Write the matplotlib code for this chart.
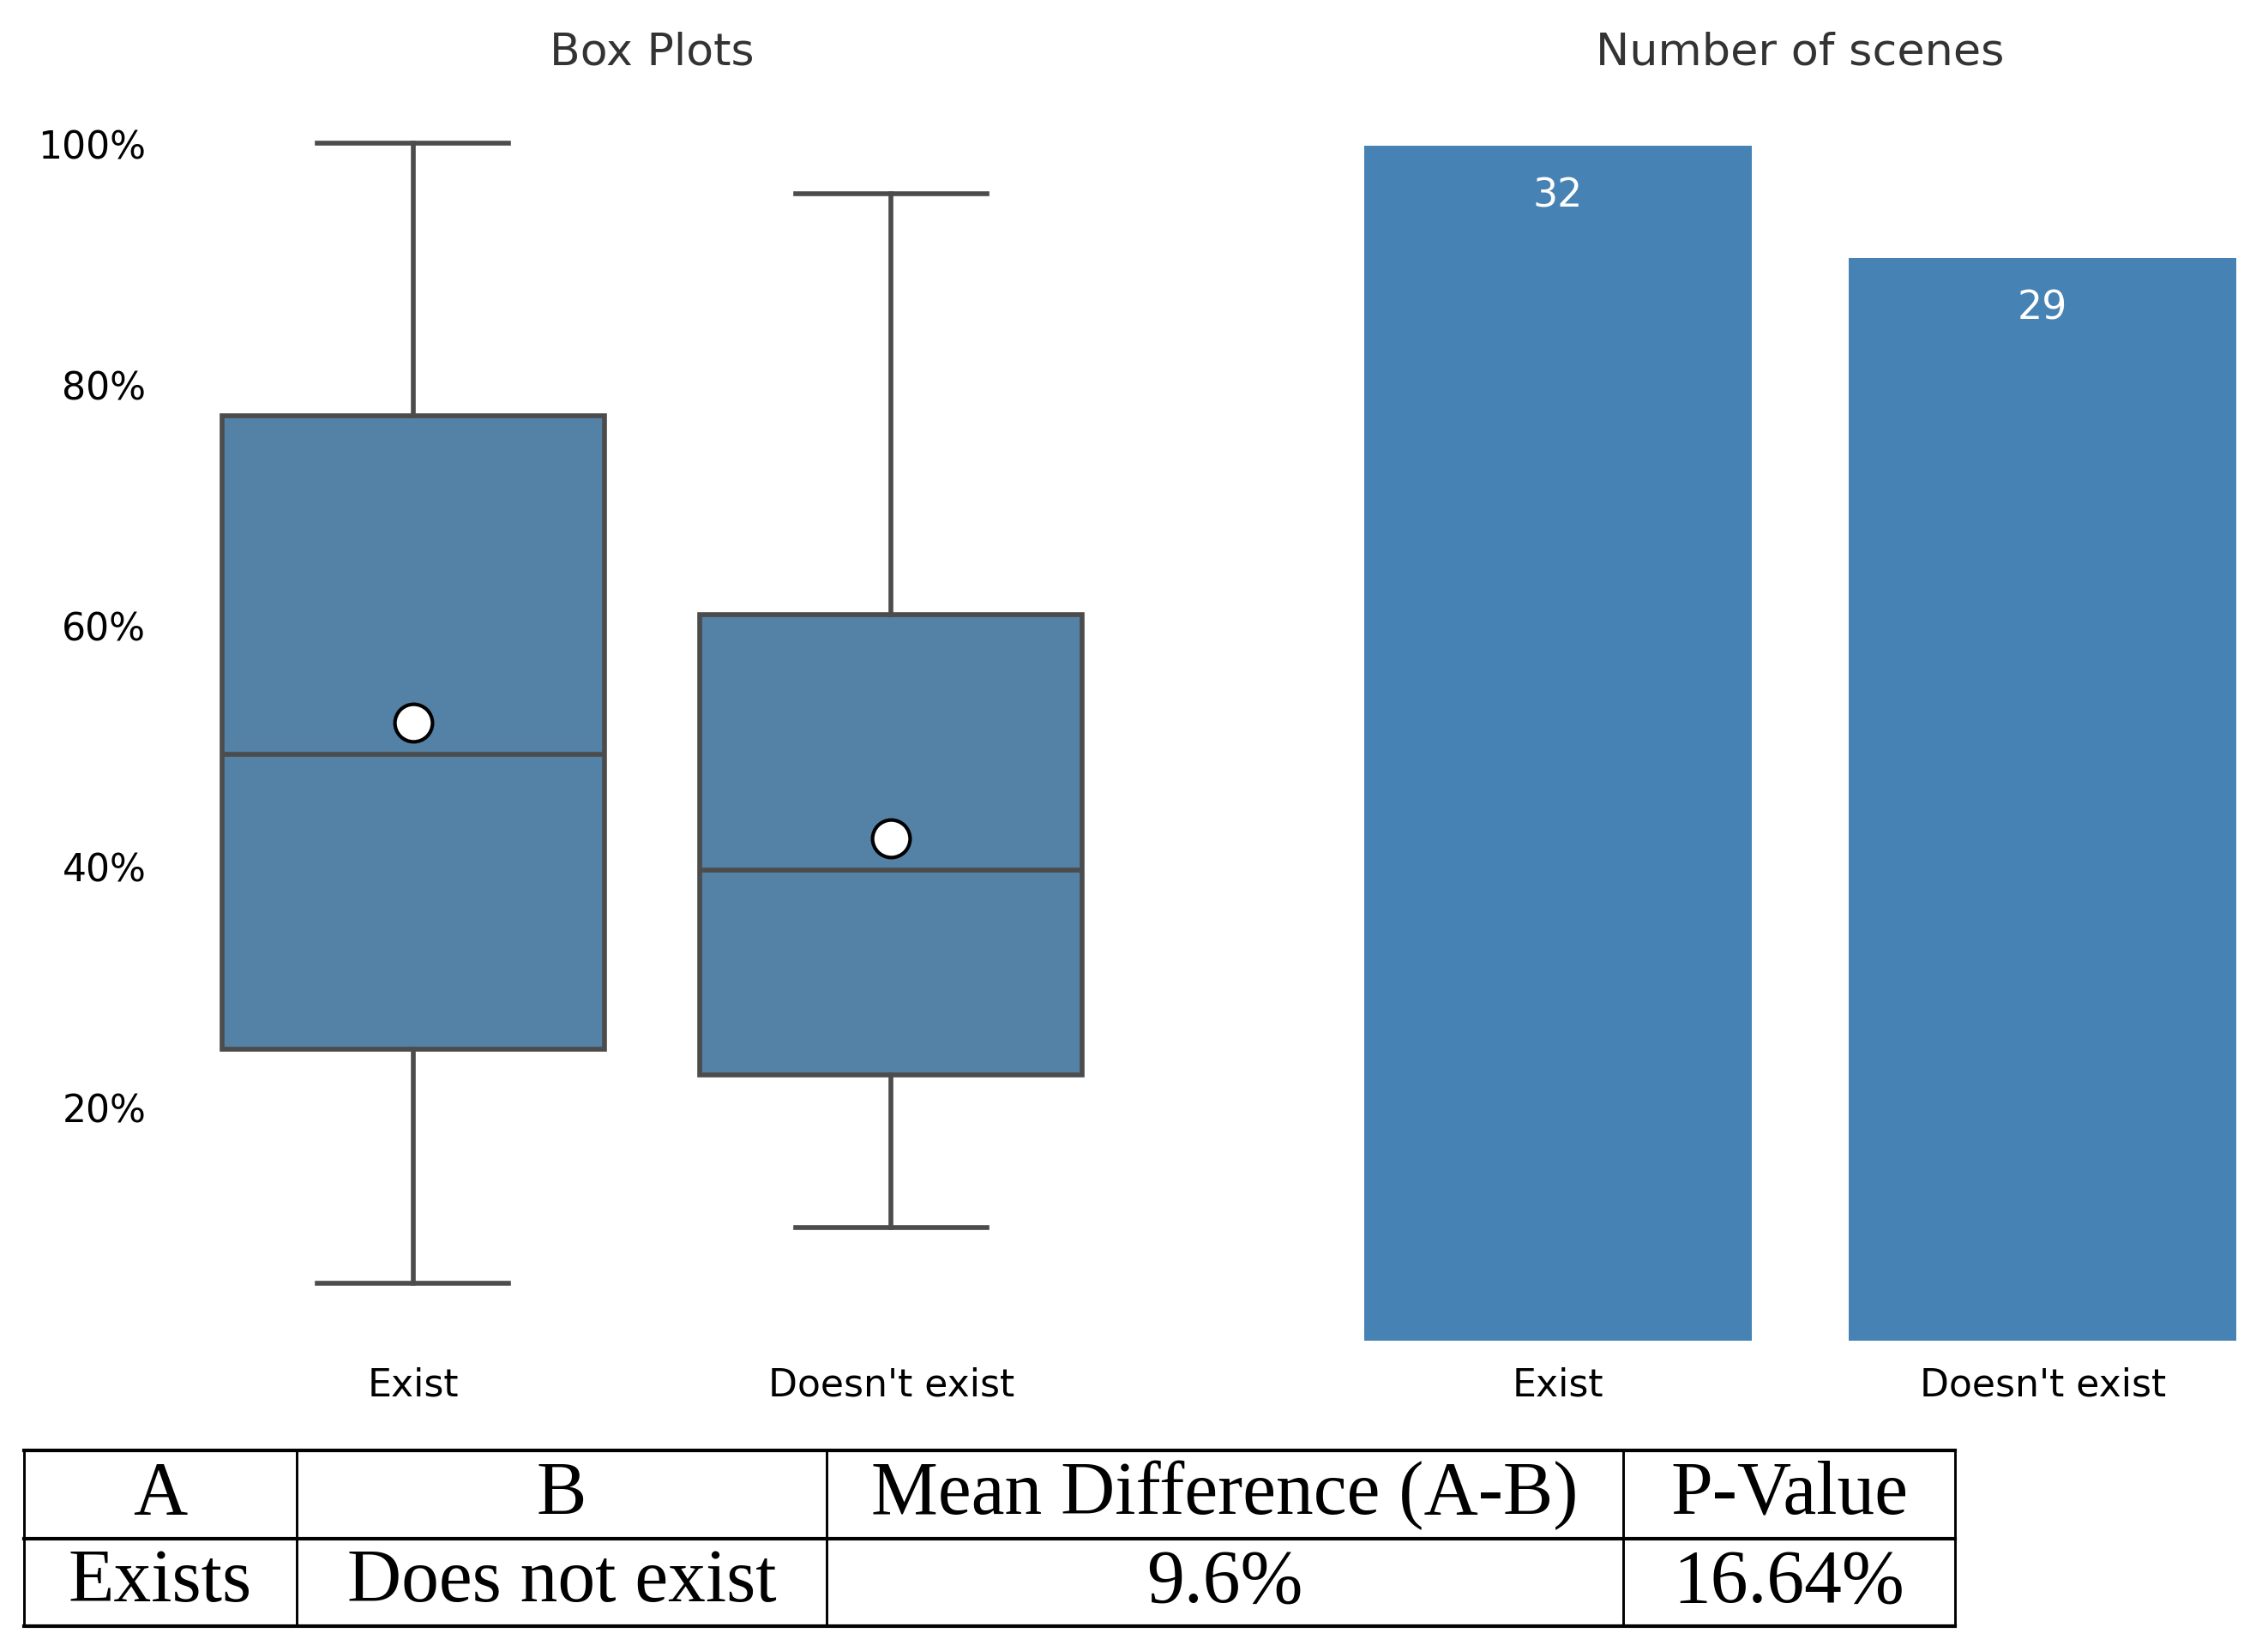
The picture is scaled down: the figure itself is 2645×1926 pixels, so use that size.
import matplotlib.pyplot as plt
from matplotlib.ticker import FuncFormatter, MultipleLocator

# box plot values (percent)
categories = ["Exist", "Doesn't exist"]
whislo = [5.4, 10.0]
q1 = [24.8, 22.7]
med = [49.3, 39.7]
q3 = [77.4, 60.9]
whishi = [100.0, 95.8]
means = [51.9, 42.3]

# number of scenes per group
scene_counts = [32, 29]

# summary table
table_header = ["A", "B", "Mean Difference (A-B)", "P-Value"]
table_row = ["Exists", "Does not exist", "9.6%", "16.64%"]

box_color = "#5481a6"
bar_color = "#4682b4"
line_color = "#4c4c4c"
title_color = "#333333"

fig = plt.figure(figsize=(2645 / 300, 1927 / 300), dpi=300)

# --- box plots ---
ax1 = fig.add_axes([0.07684, 0.1881, 0.4214, 0.7591])
stats = []
for i, name in enumerate(categories):
    stats.append(dict(label=name, whislo=whislo[i], q1=q1[i], med=med[i],
                      q3=q3[i], whishi=whishi[i], mean=means[i], fliers=[]))
lw = 1.35
ax1.bxp(stats, positions=range(len(categories)), widths=0.8, patch_artist=True,
        showmeans=True, showfliers=False,
        boxprops=dict(facecolor=box_color, edgecolor=line_color, linewidth=lw),
        medianprops=dict(color=line_color, linewidth=lw),
        whiskerprops=dict(color=line_color, linewidth=lw),
        capprops=dict(color=line_color, linewidth=lw),
        meanprops=dict(marker="o", markerfacecolor="white", markeredgecolor="black",
                       markersize=10.5, markeredgewidth=1.0))
ax1.set_xlim(-0.5, len(categories) - 0.5)
ax1.yaxis.set_major_locator(MultipleLocator(20))
ax1.yaxis.set_major_formatter(FuncFormatter(lambda v, p: f"{v:.0f}%"))
ax1.set_title("Box Plots", fontsize=12.5, color=title_color, pad=6.4)

# --- bar chart ---
ax2 = fig.add_axes([0.5802, 0.1881, 0.4272, 0.7591])
ax2.bar(range(len(categories)), scene_counts, width=0.8, color=bar_color)
ax2.set_xlim(-0.5, len(categories) - 0.5)
ax2.set_xticks(range(len(categories)))
ax2.set_xticklabels(categories)
ax2.set_yticks([])
for i, v in enumerate(scene_counts):
    ax2.annotate(str(v), (i, v), xytext=(0, -8.5), textcoords="offset points",
                 ha="center", va="top", color="white", fontsize=11)
ax2.set_title("Number of scenes", fontsize=12.6, color=title_color, pad=6.4)

for ax in (ax1, ax2):
    for s in ax.spines.values():
        s.set_visible(False)
    ax.tick_params(axis="x", length=0, pad=7.3, labelsize=10.6, colors="black")
    ax.tick_params(axis="y", length=0, pad=7.9, labelsize=10.6, colors="black")

# --- table ---
col_edges = [27.5, 345.8, 964.0, 1893.0, 2280.0]
row_edges = [1692.7, 1795.7, 1898.3]
tax = fig.add_axes([0, 0, 1, 1])
tax.set_xlim(0, 2645)
tax.set_ylim(1927, 0)
tax.axis("off")
for y in row_edges:
    tax.plot([col_edges[0], col_edges[-1]], [y, y], color="black", lw=1.0,
             solid_capstyle="projecting")
for x in col_edges:
    tax.plot([x, x], [row_edges[0], row_edges[-1]], color="black", lw=0.7)
for r, row in enumerate([table_header, table_row]):
    yc = (row_edges[r] + row_edges[r + 1]) / 2
    for c, txt in enumerate(row):
        xc = (col_edges[c] + col_edges[c + 1]) / 2
        tax.text(xc, yc, txt, ha="center", va="center", fontsize=21,
                 family="Liberation Serif", color="black")

fig.savefig("out.png", dpi=300)
